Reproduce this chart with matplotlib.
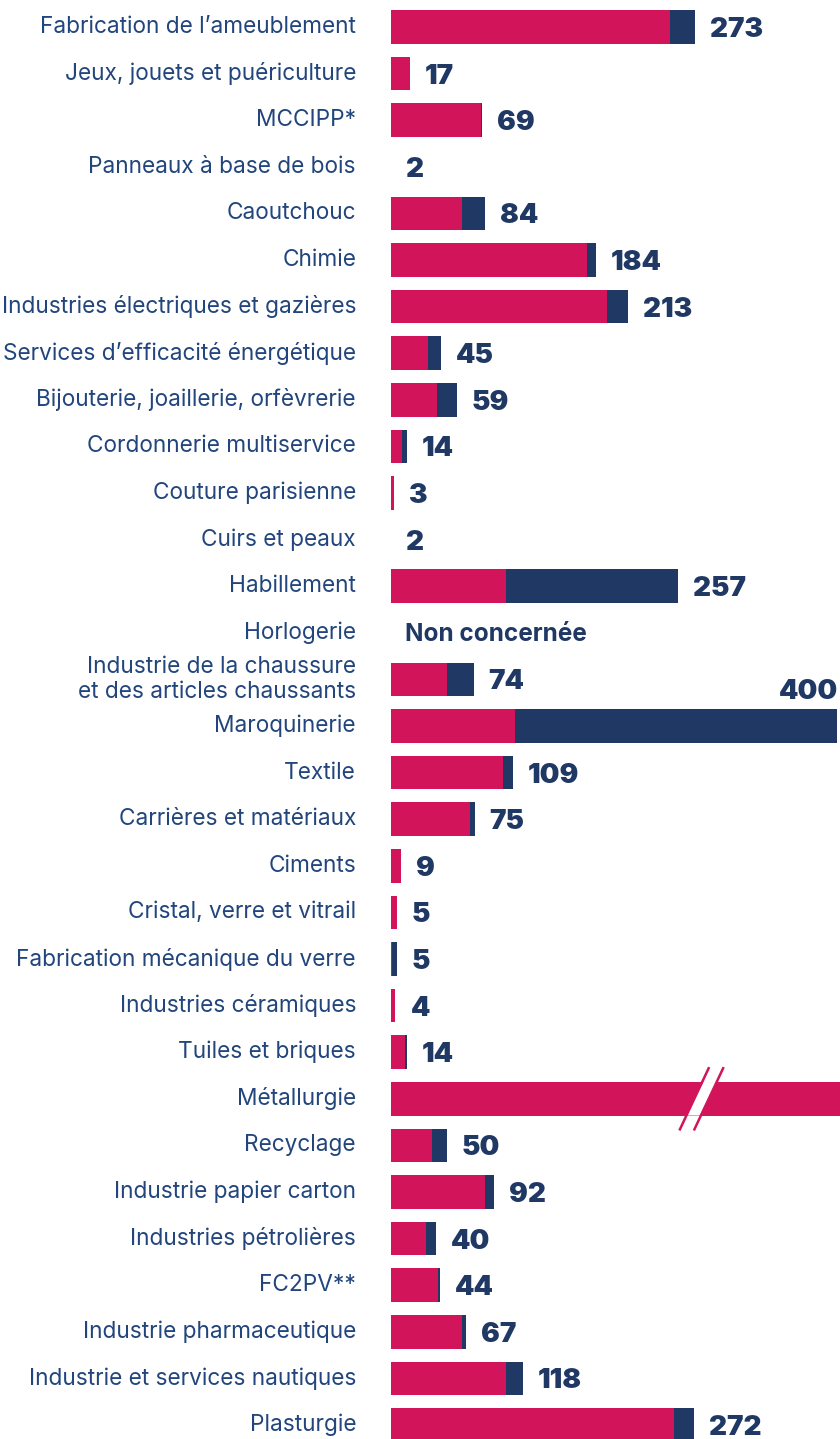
import numpy as np
import matplotlib.pyplot as plt

PINK = "#D2145A"
NAVY = "#1F3864"
LABEL = "#21457C"

categories = [
    "Fabrication de l’ameublement", "Jeux, jouets et puériculture", "MCCIPP*",
    "Panneaux à base de bois", "Caoutchouc", "Chimie",
    "Industries électriques et gazières", "Services d’efficacité énergétique",
    "Bijouterie, joaillerie, orfèvrerie", "Cordonnerie multiservice",
    "Couture parisienne", "Cuirs et peaux", "Habillement", "Horlogerie",
    "Industrie de la chaussure\net des articles chaussants", "Maroquinerie",
    "Textile", "Carrières et matériaux", "Ciments", "Cristal, verre et vitrail",
    "Fabrication mécanique du verre", "Industries céramiques",
    "Tuiles et briques", "Métallurgie", "Recyclage", "Industrie papier carton",
    "Industries pétrolières", "FC2PV**", "Industrie pharmaceutique",
    "Industrie et services nautiques", "Plasturgie",
]
# pink / navy bar parts (Métallurgie is off-scale, truncated)
pink = [250, 17, 81, 0, 64, 176, 194, 33, 41, 10, 3, 0, 103, 0, 50, 111,
        100, 71, 9, 5, 1, 3.5, 13, 600, 37, 84, 31, 42, 64, 103, 254]
navy = [23, 0, 1, 0, 20, 8, 19, 12, 18, 4, 0, 0, 154, 0, 24, 289,
        9, 4, 0, 0, 4, 0.5, 1, 0, 13, 8, 9, 2, 3, 15, 18]
totals = ["273", "17", "69", "2", "84", "184", "213", "45", "59", "14", "3",
          "2", "257", "Non concernée", "74", "400", "109", "75", "9", "5", "5",
          "4", "14", "", "50", "92", "40", "44", "67", "118", "272"]

W, H = 840, 1439
fig = plt.figure(figsize=(W / 100, H / 100), dpi=100)
px = 1.115  # pixels per unit
x0 = 391
ax = fig.add_axes([x0 / W, 0, (W - x0) / W, 1])
n = len(categories)
row = (1425 - 27) / (n - 1)
ax.set_xlim(0, (W - x0) / px)
ax.set_ylim((H - 27) / row, -27 / row)
ax.axis("off")

y = np.arange(n)
ax.barh(y, pink, height=0.72, color=PINK, linewidth=0)
ax.barh(y, navy, left=pink, height=0.72, color=NAVY, linewidth=0)

for i, (cat, p, nv, t) in enumerate(zip(categories, pink, navy, totals)):
    ax.annotate(cat, xy=(0, i), xytext=(-35, 0), textcoords="offset pixels",
                ha="right", va="center", fontsize=16.3, color=LABEL,
                family="Inter", linespacing=1.15, annotation_clip=False)
    if not t:
        continue
    end = p + nv
    if t == "Non concernée":
        ax.annotate(t, xy=(0, i), xytext=(14, -2), textcoords="offset pixels",
                    ha="left", va="center", fontsize=17.5, color=NAVY,
                    fontweight="bold", family="Inter")
    elif t == "400":
        ax.annotate(t, xy=(end, i - 0.78), xytext=(1, -2),
                    textcoords="offset pixels", ha="right", va="center",
                    fontsize=20, color=NAVY, fontweight="black",
                    family="Inter", annotation_clip=False)
    else:
        ax.annotate(t, xy=(end, i), xytext=(15, -3), textcoords="offset pixels",
                    ha="left", va="center", fontsize=20, color=NAVY,
                    fontweight="black", family="Inter")

# axis break on Métallurgie
im = categories.index("Métallurgie")
bx = 272
dx = 0.47 * row / px
ax.fill([bx - dx * 0.36, bx + dx * 0.36 + 1, bx + dx * 0.36 + 13,
         bx - dx * 0.36 + 12],
        [im + 0.36, im - 0.36, im - 0.36, im + 0.36], color="white", lw=0)
for off in (0, 13):
    ax.plot([bx + off - dx * 0.68, bx + off + dx * 0.68],
            [im + 0.68, im - 0.68], color=PINK, lw=1.8,
            solid_capstyle="butt")

fig.savefig("out.png", dpi=100)
